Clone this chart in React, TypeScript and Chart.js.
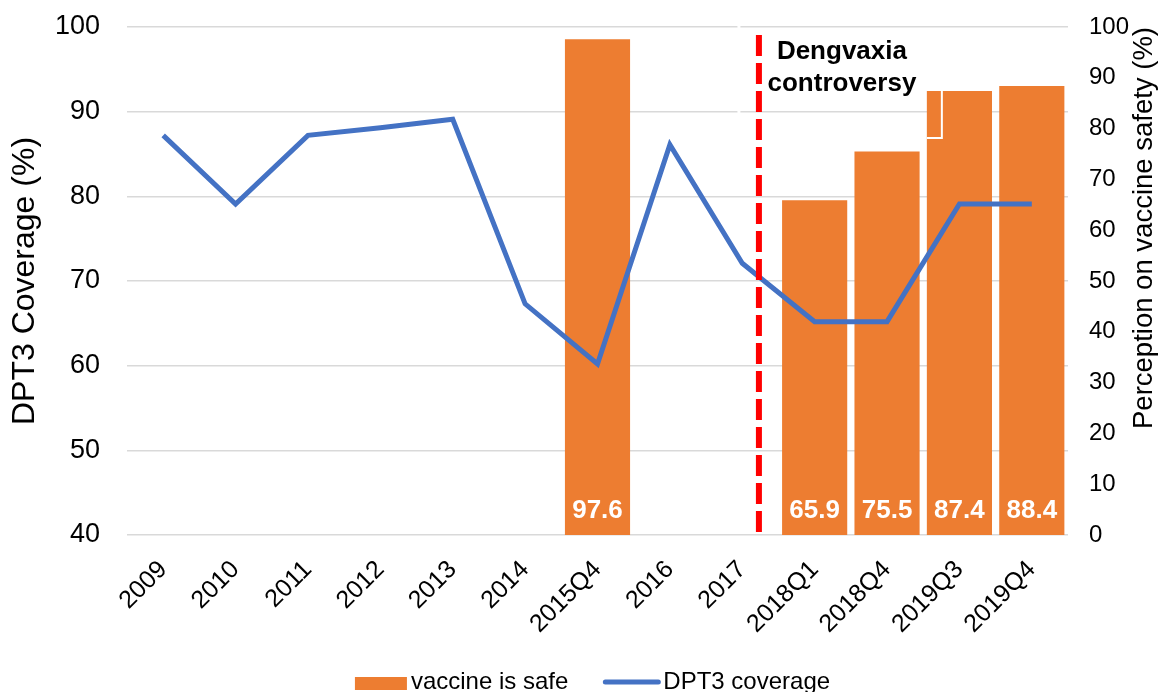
import React, { useEffect, useRef } from "react";
import { Chart, registerables } from "chart.js";

Chart.register(...registerables);

// ---------- data ----------
const categories = ["2009", "2010", "2011", "2012", "2013", "2014", "2015Q4", "2016", "2017", "2018Q1", "2018Q4", "2019Q3", "2019Q4"];
const dpt3Coverage = [87.2, 79.1, 87.2, 88.1, 89.1, 67.3, 60.2, 86.1, 72.1, 65.2, 65.2, 79.1, 79.1];
const vaccineSafe: (number | null)[] = [null, null, null, null, null, null, 97.6, null, null, 65.9, 75.5, 87.4, 88.4];
const leftAxisRange = [40, 100];
const rightAxisRange = [0, 100];
const tickStep = 10;
const eventLines = ["Dengvaxia", "controversy"];
const eventAfterIndex = 8; // between 2017 and 2018Q1
const eventFraction = 0.23;

const FONT = "'Liberation Sans', Arial, Helvetica, sans-serif";
const ORANGE = "#ED7D31";
const BLUE = "#4472C4";

const overlayPlugin = {
  id: "overlay",
  afterDatasetsDraw(chart: any) {
    const { ctx, chartArea, scales } = chart;
    const xs = scales.x;
    ctx.save();

    // bar value labels
    const barMeta = chart.getDatasetMeta(1);
    ctx.fillStyle = "#FFFFFF";
    ctx.font = `bold 26px ${FONT}`;
    ctx.textAlign = "center";
    ctx.textBaseline = "alphabetic";
    barMeta.data.forEach((el: any, i: number) => {
      const v = vaccineSafe[i];
      if (v == null) return;
      ctx.fillText(v.toFixed(1), el.x, chartArea.bottom - 17);
    });

    // small white text-box outline over the 2019Q3 bar
    const b = barMeta.data[11] as any;
    if (b) {
      const left = b.x - b.width / 2;
      ctx.strokeStyle = "#FFFFFF";
      ctx.lineWidth = 2;
      ctx.beginPath();
      ctx.moveTo(left + 15, b.y);
      ctx.lineTo(left + 15, b.y + 47);
      ctx.lineTo(left, b.y + 47);
      ctx.stroke();
    }

    // event line
    const x0 = xs.getPixelForValue(eventAfterIndex);
    const x1 = xs.getPixelForValue(eventAfterIndex + 1);
    const rx = x0 + (x1 - x0) * eventFraction;

    // white box edge crossing gridlines
    ctx.strokeStyle = "#FFFFFF";
    ctx.lineWidth = 3;
    ctx.beginPath();
    ctx.moveTo(rx - 20, chartArea.top - 6);
    ctx.lineTo(rx - 20, chartArea.top + 86);
    ctx.stroke();

    ctx.strokeStyle = "#FF0000";
    ctx.lineWidth = 6;
    ctx.setLineDash([21, 7]);
    ctx.beginPath();
    ctx.moveTo(rx, chartArea.bottom - 3);
    ctx.lineTo(rx, chartArea.top + 5);
    ctx.stroke();
    ctx.setLineDash([]);

    ctx.fillStyle = "#000000";
    ctx.font = `bold 26px ${FONT}`;
    ctx.textAlign = "center";
    ctx.fillText(eventLines[0], rx + 83, chartArea.top + 32);
    ctx.fillText(eventLines[1], rx + 83, chartArea.top + 64);
    ctx.restore();
  },
  afterDraw(chart: any) {
    const { ctx, chartArea } = chart;
    ctx.save();
    // right axis title (reads bottom to top)
    ctx.fillStyle = "#000000";
    ctx.font = `27.5px ${FONT}`;
    ctx.translate(chart.width - 15, chartArea.top);
    ctx.rotate(-Math.PI / 2);
    ctx.textAlign = "right";
    ctx.textBaseline = "middle";
    ctx.fillText("Perception on vaccine safety (%)", 0, 0);
    ctx.restore();

    // legend
    ctx.save();
    ctx.font = `24px ${FONT}`;
    const l1 = chart.data.datasets[1].label;
    const l2 = chart.data.datasets[0].label;
    const w1 = ctx.measureText(l1).width;
    const w2 = ctx.measureText(l2).width;
    const total = 52 + 4 + w1 + 35 + 57 + 3 + w2;
    const cx = (chartArea.left + chartArea.right) / 2 - 5;
    let x = cx - total / 2;
    const base = 689;
    ctx.fillStyle = ORANGE;
    ctx.fillRect(x, 677, 52, 13);
    x += 56;
    ctx.fillStyle = "#000000";
    ctx.textAlign = "left";
    ctx.textBaseline = "alphabetic";
    ctx.fillText(l1, x, base);
    x += w1 + 35;
    ctx.strokeStyle = BLUE;
    ctx.lineWidth = 5;
    ctx.lineCap = "round";
    ctx.beginPath();
    ctx.moveTo(x + 2, 682);
    ctx.lineTo(x + 55, 682);
    ctx.stroke();
    x += 60;
    ctx.fillText(l2, x, base);
    ctx.restore();
  },
};

export default function App() {
  const ref = useRef<HTMLCanvasElement | null>(null);

  useEffect(() => {
    if (!ref.current) return;
    const chart = new Chart(ref.current, {
      type: "bar",
      data: {
        labels: categories,
        datasets: [
          {
            type: "line",
            label: "DPT3 coverage",
            data: dpt3Coverage,
            borderColor: BLUE,
            backgroundColor: BLUE,
            borderWidth: 5,
            pointRadius: 0,
            tension: 0,
            yAxisID: "y",
            order: 0,
          } as any,
          {
            type: "bar",
            label: "vaccine is safe",
            data: vaccineSafe,
            backgroundColor: ORANGE,
            borderWidth: 0,
            barPercentage: 0.9,
            categoryPercentage: 1,
            yAxisID: "y1",
            order: 1,
          } as any,
        ],
      },
      options: {
        responsive: false,
        animation: false,
        layout: { padding: { top: 27, left: 0, right: 0, bottom: 0 } },
        plugins: { legend: { display: false }, tooltip: { enabled: false } },
        scales: {
          x: {
            grid: { display: false, drawTicks: false },
            border: { display: false },
            ticks: {
              font: { size: 25, family: FONT },
              color: "#000000",
              maxRotation: 45,
              minRotation: 45,
              autoSkip: false,
              padding: 20,
            },
            afterFit: (s: any) => {
              s.height = 157;
              s.paddingLeft = 0;
              s.paddingRight = 0;
            },
          },
          y: {
            position: "left",
            min: leftAxisRange[0],
            max: leftAxisRange[1],
            ticks: { stepSize: tickStep, font: { size: 27, family: FONT }, color: "#000000", padding: 27 },
            grid: { color: "#D9D9D9", lineWidth: 1.5, drawTicks: false },
            border: { display: false },
            title: {
              display: true,
              text: "DPT3 Coverage (%)",
              font: { size: 32, family: FONT },
              color: "#000000",
              padding: { top: 6, bottom: 0 },
            },
            afterFit: (s: any) => {
              s.width = 127;
              s.paddingTop = 0;
              s.paddingBottom = 0;
            },
          },
          y1: {
            position: "right",
            min: rightAxisRange[0],
            max: rightAxisRange[1],
            ticks: { stepSize: tickStep, font: { size: 24, family: FONT }, color: "#000000", padding: 21 },
            grid: { display: false, drawTicks: false },
            border: { display: false },
            afterFit: (s: any) => {
              s.width = 91;
              s.paddingTop = 0;
              s.paddingBottom = 0;
            },
          },
        },
      },
      plugins: [overlayPlugin],
    });
    return () => chart.destroy();
  }, []);

  return (
    <div style={{ position: "absolute", left: 0, top: 0, width: 1159, height: 692, background: "#fff" }}>
      <canvas ref={ref} width={1159} height={692} style={{ display: "block" }} />
    </div>
  );
}
